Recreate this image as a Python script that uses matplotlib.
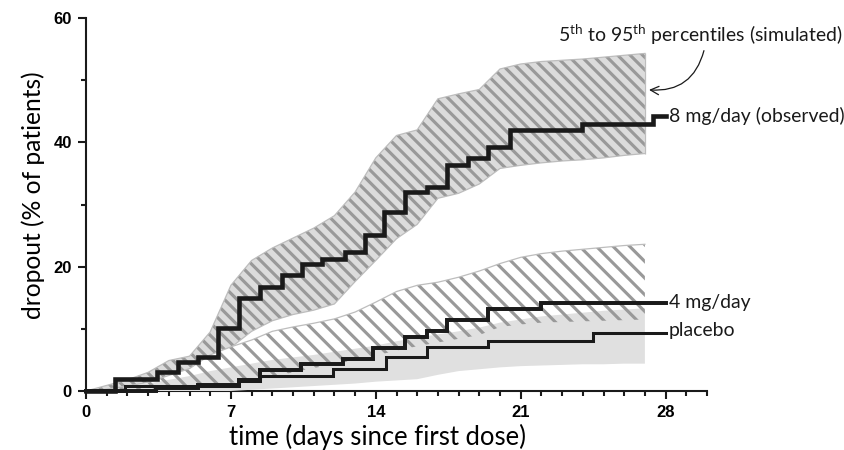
import matplotlib.pyplot as plt
import numpy as np

plt.rcParams['font.family'] = ['Lato', 'DejaVu Sans']
plt.rcParams['mathtext.fontset'] = 'custom'
plt.rcParams['mathtext.rm'] = 'Lato'
plt.rcParams['hatch.color'] = '#999999'
plt.rcParams['hatch.linewidth'] = 1.5

# simulated 5th-95th percentile bands, one value per day
band_days = np.arange(0, 28)
hi_8mg = [0, 0.9, 1.8, 3.0, 4.9, 5.6, 9.5, 17.0, 21.0, 23.0, 24.6, 26.2, 28.2, 32.0,
          37.5, 41.1, 42.0, 47.0, 47.8, 48.5, 51.8, 52.6, 53.0, 53.2, 53.4, 53.7, 54.0, 54.3]
lo_8mg = [0, 0, 0.3, 0.8, 1.5, 2.5, 4.0, 7.0, 9.6, 11.3, 12.3, 13.0, 14.0, 17.6,
          21.0, 24.5, 26.8, 31.0, 31.8, 33.3, 35.8, 36.3, 36.7, 37.0, 37.2, 37.5, 37.9, 38.2]
hi_4mg = [0, 0.3, 0.8, 1.4, 2.5, 3.6, 5.8, 7.1, 8.2, 9.6, 10.3, 10.9, 11.6, 12.7,
          14.3, 16.0, 17.0, 17.5, 18.3, 19.3, 20.5, 21.5, 22.1, 22.5, 22.8, 23.1, 23.4, 23.6]
lo_4mg = [0, 0, 0, 0, 0.2, 0.5, 0.9, 1.3, 1.8, 2.3, 3.0, 3.7, 4.3, 5.0,
          5.7, 6.5, 7.2, 7.8, 8.4, 9.0, 10.3, 10.7, 11.0, 11.1, 11.2, 11.3, 11.4, 11.5]
hi_pbo = [0, 0.3, 0.8, 1.2, 1.8, 2.4, 3.2, 3.8, 4.4, 5.0, 5.4, 5.8, 6.3, 6.8,
          7.3, 8.0, 8.6, 9.1, 9.6, 10.2, 11.0, 11.5, 12.0, 12.3, 12.6, 12.9, 13.1, 13.3]
lo_pbo = [0, 0, 0, 0, 0, 0, 0, 0, 0.2, 0.4, 0.6, 0.8, 1.0, 1.2,
          1.5, 1.7, 1.9, 2.6, 3.2, 3.5, 3.8, 4.0, 4.1, 4.2, 4.3, 4.3, 4.4, 4.4]

# observed steps (day of step, value after step)
obs8_days = [0, 1.4, 3.41, 4.43, 5.43, 6.39, 7.41, 8.4, 9.45, 10.42, 11.39, 12.5, 13.48,
             14.4, 15.41, 16.46, 17.42, 18.47, 19.43, 20.48, 23.94, 27.4, 28.0]
obs8_vals = [0, 1.9, 3.0, 4.6, 5.5, 10.1, 14.9, 16.7, 18.6, 20.5, 21.3, 22.4, 25.1,
             28.8, 32.0, 32.8, 36.3, 37.4, 39.2, 42.0, 43.0, 44.2, 44.2]
obs4_days = [0, 3.4, 5.4, 7.4, 8.4, 10.4, 12.43, 13.88, 15.41, 16.46, 17.42, 19.43, 22.0, 28.0]
obs4_vals = [0, 0.5, 0.9, 1.8, 3.3, 4.3, 5.1, 6.9, 8.7, 9.6, 11.4, 13.2, 14.1, 14.1]
pbo_days = [0, 1.9, 7.4, 8.4, 11.95, 14.5, 16.46, 19.43, 24.5, 28.0]
pbo_vals = [0, 0.8, 1.6, 2.4, 3.5, 5.4, 7.0, 8.1, 9.3, 9.3]

labels = ['8 mg/day (observed)', '4 mg/day', 'placebo']
label_y = [44.3, 14.3, 9.8]

fig = plt.figure(figsize=(844 / 150, 450 / 150), dpi=150)
ax = fig.add_axes([86 / 844, 1 - 391 / 450, (707 - 86) / 844, (391 - 18) / 450])

# 8 mg band: grey face, darker grey hatch
ax.fill_between(band_days, lo_8mg, hi_8mg, facecolor='#dcdcdc', edgecolor='#999999',
                hatch='\\' * 4, linewidth=0, zorder=1)
ax.plot(band_days, hi_8mg, color='#bdbdbd', lw=0.6, zorder=1)
ax.plot(band_days, lo_8mg, color='#bdbdbd', lw=0.6, zorder=1)
ax.vlines(band_days[-1], lo_8mg[-1], hi_8mg[-1], color='#bdbdbd', lw=0.6, zorder=1)

# 4 mg band: white under, placebo grey between, hatch on top
ax.fill_between(band_days, lo_4mg, hi_4mg, facecolor='white', edgecolor='none', zorder=2)
ax.fill_between(band_days, lo_pbo, hi_pbo, facecolor='#e0e0e0', edgecolor='none', zorder=3)
ax.fill_between(band_days, lo_4mg, hi_4mg, facecolor='none', edgecolor='#999999',
                hatch='\\' * 3, linewidth=0, zorder=4)
ax.plot(band_days, hi_4mg, color='#bdbdbd', lw=0.6, zorder=4)

ax.step(obs8_days, obs8_vals, where='post', color='#1a1a1a', lw=2.2, zorder=6,
        solid_joinstyle='miter', clip_on=False)
ax.step(obs4_days, obs4_vals, where='post', color='#1a1a1a', lw=1.9, zorder=6,
        solid_joinstyle='miter', clip_on=False)
ax.step(pbo_days, pbo_vals, where='post', color='#1a1a1a', lw=1.45, zorder=5,
        solid_joinstyle='miter', clip_on=False)

for lab, yv in zip(labels, label_y):
    ax.text(28.15, yv, lab, fontsize=9.3, va='center', ha='left', color='#1a1a1a',
            clip_on=False)

ax.annotate('', xy=(27.0, 48.5), xytext=(29.9, 55.4),
            arrowprops=dict(arrowstyle='->', color='#1a1a1a', lw=0.6,
                            connectionstyle='arc3,rad=-0.45', mutation_scale=10))
ax.text(29.66, 57.4, r'5$^{\mathrm{th}}$ to 95$^{\mathrm{th}}$ percentiles (simulated)',
        fontsize=9.3, ha='center', va='center', color='#1a1a1a', clip_on=False)

ax.set_xlim(0, 30)
ax.set_ylim(0, 60)
ax.set_xticks([0, 7, 14, 21, 28])
ax.set_xticks(np.arange(0, 31), minor=True)
ax.set_yticks([0, 20, 40, 60])
ax.set_yticks([10, 30, 50], minor=True)
for s in ['top', 'right']:
    ax.spines[s].set_visible(False)
for s in ['left', 'bottom']:
    ax.spines[s].set_linewidth(1.0)
    ax.spines[s].set_color('#1a1a1a')
ax.tick_params(which='major', length=3.8, width=1.0, color='#1a1a1a', pad=3)
ax.tick_params(which='minor', length=2.4, width=1.0, color='#1a1a1a')
for t in ax.get_xticklabels() + ax.get_yticklabels():
    t.set_fontfamily('Liberation Sans')
    t.set_fontweight('bold')
    t.set_fontsize(8)
ax.set_xlabel('time (days since first dose)', fontsize=12.3)
ax.set_ylabel('dropout (% of patients)', fontsize=11.8)
ax.xaxis.set_label_coords(0.47, -0.088)
ax.yaxis.set_label_coords(-0.066, 0.525)

fig.savefig('out.png', dpi=150)
